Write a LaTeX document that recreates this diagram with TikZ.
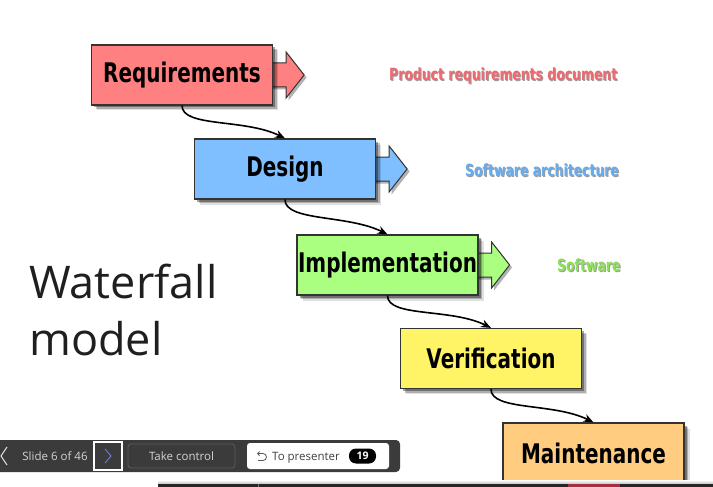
\documentclass[tikz,border=0pt]{standalone}
\usepackage{fontspec}
\setmainfont{Open Sans}
\newfontfamily\condfont[FakeStretch=0.74]{DejaVu Sans}
\usetikzlibrary{arrows.meta,shadows,backgrounds}

% stage colours
\definecolor{reqfill}{HTML}{FF8080}
\definecolor{desfill}{HTML}{80BFFF}
\definecolor{impfill}{HTML}{AAFF80}
\definecolor{verfill}{HTML}{FFF466}
\definecolor{mntfill}{HTML}{FFCC80}
\definecolor{edge}{HTML}{333333}
% deliverable label colours
\definecolor{reqtext}{HTML}{EE6A70}
\definecolor{destext}{HTML}{68ACEE}
\definecolor{imptext}{HTML}{8EE05A}
% presenter toolbar colours
\definecolor{barbg}{HTML}{3B3B3B}
\definecolor{tbtext}{HTML}{D4D4D4}
\definecolor{btnedge}{HTML}{5C5C5C}
\definecolor{navpurple}{HTML}{6F73C8}
\definecolor{stripred}{HTML}{A4303F}

\tikzset{
  softshadow/.style={
    drop shadow={shadow xshift=5.5pt,shadow yshift=-5.5pt,opacity=0.12,fill=black},
    drop shadow={shadow xshift=4pt,shadow yshift=-4pt,opacity=0.22,fill=black},
    drop shadow={shadow xshift=2.5pt,shadow yshift=-2.5pt,opacity=0.35,fill=black}},
  stage/.style={draw=edge, line width=1.2pt, minimum width=181pt, minimum height=60pt,
    inner sep=0pt, softshadow,
    font=\condfont\bfseries\fontsize{27}{27}\selectfont},
  conn/.style={line width=1.6pt, -{Stealth[length=10pt,width=8pt]}},
  lbl/.style={inner sep=0pt, anchor=base west,
    font=\condfont\bfseries\fontsize{16.8}{16.8}\selectfont},
  lblshade/.style={lbl, text=black!70, opacity=0.55},
  tb/.style={inner sep=0pt, font=\fontsize{11.5}{11.5}\selectfont},
}

% block arrow leaving the right side of a stage box
\newcommand\sidearrow[2]{%
  \filldraw[fill=#2, draw=edge, line width=1pt, line join=miter,
    drop shadow={shadow xshift=2.5pt,shadow yshift=-2.5pt,opacity=0.3,fill=black},
    shift={(#1.east)}]
    (-6,-12) -- (13,-12) -- (13,-23) -- (31,0) -- (13,23) -- (13,12) -- (-6,12) -- cycle;}

\begin{document}
\begin{tikzpicture}[x=1pt,y=-1pt]
\useasboundingbox (0,0) rectangle (713,487);

% stages of the waterfall
\node[stage, fill=reqfill] (req) at (182,75)    {Requirements};
\node[stage, fill=desfill] (des) at (285,169)   {Design};
\node[stage, fill=impfill] (imp) at (387.5,265) {Implementation};
\node[stage, fill=verfill] (ver) at (491,358.5) {Verification};
\node[stage, fill=mntfill] (mnt) at (593.5,453) {Maintenance};

\begin{pgfonlayer}{background}
  \fill[white] (0,0) rectangle (713,487);
  \sidearrow{req}{reqfill}
  \sidearrow{des}{desfill}
  \sidearrow{imp}{impfill}
\end{pgfonlayer}

% flow from one stage to the next
\draw[conn] (req.south) .. controls +(0,22) and +(-40,-20) .. (des.north);
\draw[conn] (des.south) .. controls +(0,22) and +(-40,-20) .. (imp.north);
\draw[conn] (imp.south) .. controls +(0,22) and +(-40,-20) .. (ver.north);
\draw[conn] (ver.south) .. controls +(0,22) and +(-40,-20) .. (mnt.north);

% deliverables
\node[lblshade] (prdS) at (390,82) {Product requirements document};
\node[lbl, text=reqtext] (prd) at (389,81) {Product requirements document};
\node[lblshade] (archS) at (466,177) {Software architecture};
\node[lbl, text=destext] (arch) at (465,176) {Software architecture};
\node[lblshade] (swS) at (558,272) {Software};
\node[lbl, text=imptext] (sw) at (557,271) {Software};

% slide title
\node[inner sep=0pt, anchor=base west, text=black!88, font=\fontsize{45}{45}\selectfont] (wf1) at (29,298) {Waterfall};
\node[inner sep=0pt, anchor=base west, text=black!88, font=\fontsize{45}{45}\selectfont] (wf2) at (29,355) {model};

% presenter toolbar
\fill[barbg, rounded corners=4pt] (-8,440) rectangle (400,472);
\draw[tbtext!80, line width=1pt] (7,447) -- (1,456) -- (7,465);
\node[tb, anchor=base, text=tbtext] (slide) at (55,460) {Slide 6 of 46};
\draw[white, line width=1.5pt] (94,442) rectangle (122,470);
\draw[navpurple, line width=1pt] (105,449) -- (111,456) -- (105,463);
\draw[btnedge, fill=barbg, line width=0.8pt, rounded corners=3pt] (128,444) rectangle (235,468);
\node[tb, anchor=base, text=tbtext] (take) at (181.5,460) {Take control};
\fill[white, rounded corners=3pt] (247,443) rectangle (389,469);
\draw[black!65, line width=0.8pt, -{Straight Barb[length=2pt,width=4pt]}]
  (258,460.5) -- (263,460.5) arc[start angle=90, end angle=-90, radius=3.5] -- (257,453.5);
\node[tb, anchor=base west, text=black!75] (back) at (272,460) {To presenter};
\node[fill=black, rounded corners=7pt, minimum width=27pt, minimum height=15pt,
  inner sep=0pt, text=white, font=\bfseries\fontsize{10.5}{10.5}\selectfont] (count) at (362.5,456) {19};

% taskbar strip along the lower edge
\shade[top color=white, bottom color=black!25] (158,480) rectangle (713,484);
\fill[black!85] (158,484) rectangle (713,488);
\draw[black!55, line width=0.8pt] (258,484) -- (258,488);
\fill[stripred] (568,484) rectangle (620,488);
\end{tikzpicture}
\end{document}
